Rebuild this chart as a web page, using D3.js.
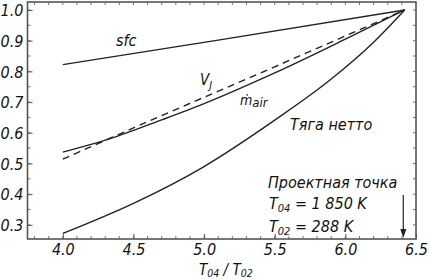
<!DOCTYPE html>
<html>
<head>
<meta charset="utf-8">
<script src="https://cdn.jsdelivr.net/npm/d3@7"></script>
<style>
  body { margin: 0; background: #fff; }
  svg text { font-family: "DejaVu Sans Condensed", "DejaVu Sans", sans-serif; font-style: italic; fill: #111; }
</style>
</head>
<body>
<div id="main"></div>
<script>
//chart values
const xTicks = [4.0, 4.5, 5.0, 5.5, 6.0, 6.5];
const yTicks = [0.3, 0.4, 0.5, 0.6, 0.7, 0.8, 0.9, 1.0];
const sfc = [[4.0, 0.822], [5.1, 0.902], [6.42, 1.0]];
const vj = [[4.0, 0.514], [4.6, 0.636], [5.5, 0.815], [6.42, 1.0]];
const mair = [[4.0, 0.537], [4.33, 0.580], [4.7, 0.642], [5.0, 0.695], [5.5, 0.795], [6.0, 0.905], [6.42, 1.0]];
const thrust = [[4.0, 0.272], [4.5, 0.37], [5.0, 0.49], [5.5, 0.641], [5.9, 0.775], [6.2, 0.895], [6.42, 1.0]];
const designPoint = 6.41;

//size
const width = 430;
const height = 280;
const margin = {left: 27.5, right: 14, top: 2, bottom: 41};

const svg = d3.select('#main')
              .append('svg')
              .attr('width', width)
              .attr('height', height);

//scales
const xScale = d3.scaleLinear().domain([3.75, 6.5]).range([margin.left, width - margin.right]);
const yScale = d3.scaleLinear().domain([0.254, 1.026]).range([height - margin.bottom, margin.top]);

const x0 = xScale.range()[0], x1 = xScale.range()[1];
const y0 = yScale.range()[0], y1 = yScale.range()[1];

//minor ticks on all sides (inside the frame)
const xMinor = d3.range(3.8, 6.5, 0.1);
const yMinor = d3.range(0.3, 1.03, 0.05);

svg.append('g').selectAll('line').data(xMinor).enter().append('line')
   .attr('x1', d => xScale(d)).attr('x2', d => xScale(d))
   .attr('y1', y0).attr('y2', y0 - 3)
   .attr('stroke', '#777').attr('stroke-width', 1);
svg.append('g').selectAll('line').data(xMinor).enter().append('line')
   .attr('x1', d => xScale(d)).attr('x2', d => xScale(d))
   .attr('y1', y1).attr('y2', y1 + 3)
   .attr('stroke', '#777').attr('stroke-width', 1);
svg.append('g').selectAll('line').data(yMinor).enter().append('line')
   .attr('x1', x0).attr('x2', x0 + 3)
   .attr('y1', d => yScale(d)).attr('y2', d => yScale(d))
   .attr('stroke', '#777').attr('stroke-width', 1);
svg.append('g').selectAll('line').data(yMinor).enter().append('line')
   .attr('x1', x1).attr('x2', x1 - 3)
   .attr('y1', d => yScale(d)).attr('y2', d => yScale(d))
   .attr('stroke', '#777').attr('stroke-width', 1);

//axes (ticks inside, labels outside)
const xAxis = d3.axisBottom(xScale).tickValues(xTicks).tickSize(-5).tickPadding(5).tickFormat(d3.format('.1f'));
const yAxis = d3.axisLeft(yScale).tickValues(yTicks).tickSize(-5).tickPadding(4).tickFormat(d3.format('.1f'));

const gx = svg.append('g').attr('id', 'x-axis')
   .attr('transform', 'translate(0,' + y0 + ')')
   .call(xAxis);
const gy = svg.append('g').attr('id', 'y-axis')
   .attr('transform', 'translate(' + x0 + ',0)')
   .call(yAxis);

[gx, gy].forEach(g => {
  g.select('.domain').remove();
  g.selectAll('.tick line').attr('stroke', '#555');
  g.selectAll('.tick text').style('font-size', '16px').attr('fill', '#111');
});
gy.selectAll('.tick text').attr('dy', '0.36em');
gx.selectAll('.tick text').attr('dy', '0.71em');

//frame
svg.append('rect')
   .attr('x', x0).attr('y', y1)
   .attr('width', x1 - x0).attr('height', y0 - y1)
   .attr('fill', 'none').attr('stroke', '#555').attr('stroke-width', 1.6);

//curves
const line = d3.line()
  .x(d => xScale(d[0]))
  .y(d => yScale(d[1]))
  .curve(d3.curveMonotoneX);

[sfc, mair, thrust].forEach(s => {
  svg.append('path').datum(s)
     .attr('d', line)
     .attr('fill', 'none').attr('stroke', '#222').attr('stroke-width', 1.4);
});
svg.append('path').datum(vj)
   .attr('d', line)
   .attr('fill', 'none').attr('stroke', '#222').attr('stroke-width', 1.4)
   .attr('stroke-dasharray', '7,5');

//curve labels
svg.append('text').attr('x', 116).attr('y', 46).style('font-size', '16px').text('sfc');

const vLabel = svg.append('text').attr('x', 200).attr('y', 85).style('font-size', '15px');
vLabel.append('tspan').text('V');
vLabel.append('tspan').attr('dy', 4).style('font-size', '11px').text('J');

const mLabel = svg.append('text').attr('x', 240).attr('y', 105).style('font-size', '14px');
mLabel.append('tspan').text('ṁ');
mLabel.append('tspan').attr('dy', 2).style('font-size', '13px').text('air');

svg.append('text').attr('x', 290).attr('y', 130).style('font-size', '16px').text('Тяга нетто');

//design point note
svg.append('text').attr('x', 268).attr('y', 188).style('font-size', '16px').text('Проектная точка');

const t4 = svg.append('text').attr('x', 269).attr('y', 209).style('font-size', '16px');
t4.append('tspan').text('T');
t4.append('tspan').attr('dy', 3).style('font-size', '11px').text('04');
t4.append('tspan').attr('dy', -3).text(' = 1 850 K');

const t2 = svg.append('text').attr('x', 269).attr('y', 232).style('font-size', '16px');
t2.append('tspan').text('T');
t2.append('tspan').attr('dy', 3).style('font-size', '11px').text('02');
t2.append('tspan').attr('dy', -3).text(' = 288 K');

//arrow to the design point
const ax = xScale(designPoint);
svg.append('line')
   .attr('x1', ax).attr('x2', ax)
   .attr('y1', 195).attr('y2', y0 - 8)
   .attr('stroke', '#222').attr('stroke-width', 1.2);
svg.append('path')
   .attr('d', 'M' + (ax - 3) + ',' + (y0 - 10) + 'L' + (ax + 3) + ',' + (y0 - 10) + 'L' + ax + ',' + (y0 - 1) + 'Z')
   .attr('fill', '#222');

//x axis title
const xt = svg.append('text').attr('x', 199).attr('y', 275).style('font-size', '15px');
xt.append('tspan').text('T');
xt.append('tspan').attr('dy', 1.5).style('font-size', '10.5px').text('04');
xt.append('tspan').attr('dy', -1.5).text(' / T');
xt.append('tspan').attr('dy', 1.5).style('font-size', '10.5px').text('02');
</script>
</body>
</html>
